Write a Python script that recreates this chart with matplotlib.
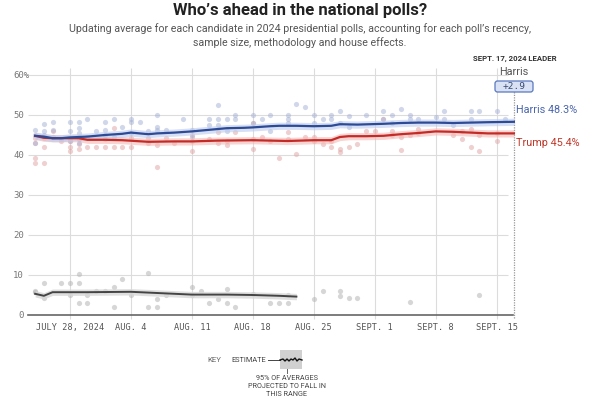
import matplotlib.pyplot as plt
from matplotlib.patches import FancyBboxPatch, Rectangle

# days counted from July 28, 2024 (0 = JULY 28)
TICK_DAYS = [0, 7, 14, 21, 28, 35, 42, 49]
TICK_LABELS = ["JULY 28, 2024", "AUG. 4", "AUG. 11", "AUG. 18", "AUG. 25",
               "SEPT. 1", "SEPT. 8", "SEPT. 15"]
Y_TICKS = [0, 10, 20, 30, 40, 50, 60]
Y_LABELS = ["0", "10", "20", "30", "40", "50", "60%"]
LEADER_DAY = 51

# polling averages
harris_avg_days = [-4, -3, -2, -1, 0, 2, 4, 6, 7, 8, 9, 10, 12, 14, 16, 18, 20, 21, 23,
                   24, 26, 28, 30, 31, 33, 36, 38, 40, 42, 44, 46, 48, 51]
harris_avg = [44.8, 44.6, 44.2, 44.2, 44.4, 44.6, 45.0, 45.3, 45.6, 45.4, 45.2, 45.4, 45.6,
              45.9, 46.3, 46.7, 46.8, 46.9, 47.2, 47.3, 47.3, 47.2, 47.3, 47.7, 47.6, 47.8,
              48.0, 48.1, 48.1, 48.0, 48.1, 48.2, 48.3]
trump_avg_days = [-4, -3, -2, 0, 1, 2, 4, 6, 9, 12, 14, 17, 21, 25, 28, 30, 31, 32, 34,
                  36, 38, 40, 42, 44, 46, 48, 51]
trump_avg = [44.8, 44.3, 44.2, 44.2, 44.2, 43.8, 43.8, 43.7, 43.3, 43.4, 43.4, 43.6, 43.7,
             43.5, 43.7, 43.7, 44.5, 44.7, 44.7, 44.8, 45.2, 45.5, 45.9, 45.8, 45.6, 45.4, 45.4]
other_avg_days = [-4, -3, -2, 2, 7, 9, 14, 18, 21, 24, 26]
other_avg = [5.3, 4.8, 5.7, 5.7, 5.8, 5.6, 5.1, 5.1, 5.0, 4.8, 4.6]

# individual polls
harris_poll_days = [-4, -4, -4, -3, -3, -3, -2, -2, -2, -1, 0, 0, 0, 0, 1, 1, 1, 1, 1, 2, 2,
                    3, 4, 4, 4, 5, 5, 6, 7, 7, 7, 8, 9, 10, 10, 10, 11, 13, 14, 14, 16, 16,
                    17, 17, 17, 18, 18, 19, 19, 21, 21, 22, 23, 23, 25, 25, 25, 26, 27, 28,
                    28, 29, 30, 30, 31, 31, 32, 32, 34, 36, 36, 37, 37, 38, 39, 39, 40, 42,
                    43, 43, 44, 46, 46, 47, 49, 50]
harris_polls = [46.2, 45, 43, 47.7, 46, 45, 48.2, 46.2, 44.5, 44, 48.2, 46, 44, 43.4, 48.2,
                46.7, 45.5, 44, 43, 49, 44.5, 46, 48.2, 46.2, 45, 49, 44.5, 47, 49, 48.2, 45.5,
                48.2, 46, 50, 47, 46.2, 46.2, 49, 46.2, 44.5, 49, 47.5, 52.5, 49, 47.5, 49, 46,
                50, 49, 50, 48, 49, 50, 46, 50, 49, 48, 52.7, 52, 50, 48, 49, 50, 49, 51, 48,
                47, 49.8, 50, 51, 49, 50, 48, 51.5, 50, 49, 49, 49.5, 51, 49, 47.5, 51, 49, 51,
                51, 49]
trump_poll_days = [-4, -4, -4, -4, -3, -3, -3, -2, -2, -1, 0, 0, 0, 1, 1, 1, 2, 3, 4, 4, 5,
                   5, 6, 7, 7, 9, 9, 10, 10, 11, 12, 14, 14, 14, 16, 17, 17, 18, 18, 19, 21,
                   21, 21, 22, 23, 24, 25, 25, 26, 27, 28, 28, 29, 30, 30, 31, 31, 32, 33, 34,
                   35, 36, 37, 37, 38, 38, 39, 40, 40, 44, 45, 45, 46, 46, 47, 47, 49, 49]
trump_polls = [44.2, 43, 39.2, 38, 44.2, 42, 38, 46, 44.5, 43.4, 43.4, 42, 41, 44, 42.7, 41.6,
               42, 42, 42, 44, 46.7, 42, 42, 44.2, 42, 44.2, 43, 37, 42.5, 44.2, 43, 41, 43.4,
               45, 44, 45.8, 43, 43.4, 42.5, 45.8, 48, 41.6, 44, 44.5, 43.4, 39.2, 45.8, 44,
               40.2, 44.5, 44.5, 43.4, 42.7, 43.4, 42, 41.5, 40.7, 42, 42.7, 46, 46, 49, 46, 45,
               44.5, 41.2, 45, 46.5, 45.5, 45, 46, 44, 46.5, 42, 45, 41, 45.5, 43.5]
other_poll_days = [-4, -4, -3, -3, -1, 0, 0, 1, 1, 1, 2, 2, 3, 4, 5, 5, 6, 7, 9, 9, 10, 10,
                   11, 14, 14, 15, 16, 17, 18, 18, 19, 21, 23, 24, 25, 25, 28, 29, 31, 31, 32,
                   33, 39, 47]
other_polls = [6.1, 5.8, 8, 4.2, 8, 8, 5, 10.2, 8, 3, 5, 3, 6, 6, 7, 2, 9, 5, 10.6, 2, 4, 2,
               5, 7, 5, 6, 3, 4, 6.5, 3, 2, 5.3, 3, 3, 3, 5, 4, 6, 6, 4.8, 4.3, 4.3, 3.2, 5]

BLUE = "#2c4a96"
RED = "#c42b26"
GRAY_LINE = "#444444"

fig = plt.figure(figsize=(6, 4), dpi=100)
ax = fig.add_axes([28 / 600, 1 - 315 / 400, 487 / 600, 247.2 / 400])
ax.set_xlim(-4.82, 51.1)
ax.set_ylim(0, 61.8)
for s in ax.spines.values():
    s.set_visible(False)
ax.set_xticks([])
ax.set_yticks([])

# grid
ax.hlines(Y_TICKS[1:], -4.82, 50.3, color="#dcdcdc", lw=0.8, zorder=0)
ax.vlines(TICK_DAYS, -0.9, 61.8, color="#dcdcdc", lw=0.8, zorder=0, clip_on=False)
ax.plot([-4.82, 50.9], [0, 0], color="#666666", lw=1.2, zorder=1, clip_on=False)
ax.plot([LEADER_DAY, LEADER_DAY], [-0.8, 56.8], color="#999999", lw=0.9, ls=(0, (1, 1)),
        clip_on=False, zorder=1)

# polls
ax.scatter(other_poll_days, other_polls, s=14, color="#b5b5b5", alpha=0.55, lw=0, zorder=2)
ax.scatter(trump_poll_days, trump_polls, s=14, color="#e0a3a3", alpha=0.5, lw=0, zorder=2)
ax.scatter(harris_poll_days, harris_polls, s=14, color="#a3b0d4", alpha=0.5, lw=0, zorder=2)

# uncertainty bands and averages
ax.fill_between(other_avg_days, [v - 0.8 for v in other_avg], [v + 0.8 for v in other_avg],
                color="#d8d8d8", alpha=0.8, lw=0, zorder=3)
ax.fill_between(trump_avg_days, [v - 0.9 for v in trump_avg], [v + 0.9 for v in trump_avg],
                color="#f4b8b4", alpha=0.6, lw=0, zorder=3)
ax.fill_between(harris_avg_days, [v - 0.9 for v in harris_avg], [v + 0.9 for v in harris_avg],
                color="#bccbee", alpha=0.6, lw=0, zorder=3)
ax.plot(other_avg_days, other_avg, color=GRAY_LINE, lw=1.4, zorder=4)
ax.plot(trump_avg_days, trump_avg, color=RED, lw=1.6, zorder=4)
ax.plot(harris_avg_days, harris_avg, color=BLUE, lw=1.6, zorder=4)

# tick labels
for d, lab in zip(TICK_DAYS, TICK_LABELS):
    ax.text(d, -3.2, lab, ha="center", va="center", fontsize=6.2,
            family="DejaVu Sans Mono", color="#555555")

# overlay in pixel coordinates for annotations
ov = fig.add_axes([0, 0, 1, 1], zorder=5)
ov.set_xlim(0, 600)
ov.set_ylim(400, 0)
ov.axis("off")
ov.patch.set_alpha(0)

for v, lab in zip(Y_TICKS, Y_LABELS):
    yy = 315 - 4 * v
    if lab.endswith("%"):
        ov.text(13, yy, lab, ha="left", va="center", fontsize=6.5, color="#777777",
                family="DejaVu Sans Mono")
    else:
        ov.text(24, yy, lab, ha="right", va="center", fontsize=6.5, color="#777777",
                family="DejaVu Sans Mono")

ov.text(300, 11, "Who\u2019s ahead in the national polls?", ha="center", va="center",
        fontsize=12, fontweight="bold", family="Roboto", color="#222222")
ov.text(300, 29, "Updating average for each candidate in 2024 presidential polls, accounting for each poll\u2019s recency,",
        ha="center", va="center", fontsize=7.7, family="Roboto", color="#555555")
ov.text(300, 43, "sample size, methodology and house effects.",
        ha="center", va="center", fontsize=7.7, family="Roboto", color="#555555")

ov.text(515, 59, "SEPT. 17, 2024 LEADER", ha="center", va="center", fontsize=5.6,
        fontweight="bold", family="Roboto", color="#333333")
ov.text(514, 72, "Harris", ha="center", va="center", fontsize=7.8, family="Roboto",
        color="#555555")
ov.add_patch(FancyBboxPatch((495, 81), 38, 11, boxstyle="round,pad=0,rounding_size=2.5",
                            fc="#d9e2f5", ec="#5a78c0", lw=0.9))
ov.text(514, 86.5, "+2.9", ha="center", va="center", fontsize=6.8,
        family="DejaVu Sans Mono", color="#3a4a70")

ov.text(516, 110, "Harris 48.3%", ha="left", va="center", fontsize=7.8, family="Roboto",
        color="#4b66ad")
ov.text(516, 143, "Trump 45.4%", ha="left", va="center", fontsize=7.8, family="Roboto",
        color="#c0392b")

# key
ov.text(207, 360, "KEY", ha="left", va="center", fontsize=5.6, family="Roboto", color="#666666")
ov.text(231, 360, "ESTIMATE", ha="left", va="center", fontsize=5.3, family="Roboto",
        color="#444444")
ov.plot([268, 280], [360, 360], color="#444444", lw=0.7)
ov.add_patch(Rectangle((280, 350), 22, 19, fc="#d0d0d0", ec="none"))
wig_x = [280, 283, 285, 287, 289, 291, 293, 295, 297, 299, 302]
wig_y = [360, 359, 361, 359, 361, 359, 360, 358, 361, 359, 360]
ov.plot(wig_x, wig_y, color="#111111", lw=1.0)
ov.plot([287, 287], [369, 373], color="#666666", lw=0.7)
ov.text(287, 379, "95% OF AVERAGES", ha="center", va="center", fontsize=5.2,
        family="Roboto", color="#444444")
ov.text(287, 387, "PROJECTED TO FALL IN", ha="center", va="center", fontsize=5.2,
        family="Roboto", color="#444444")
ov.text(287, 395, "THIS RANGE", ha="center", va="center", fontsize=5.2,
        family="Roboto", color="#444444")

fig.savefig("out.png", dpi=100)
